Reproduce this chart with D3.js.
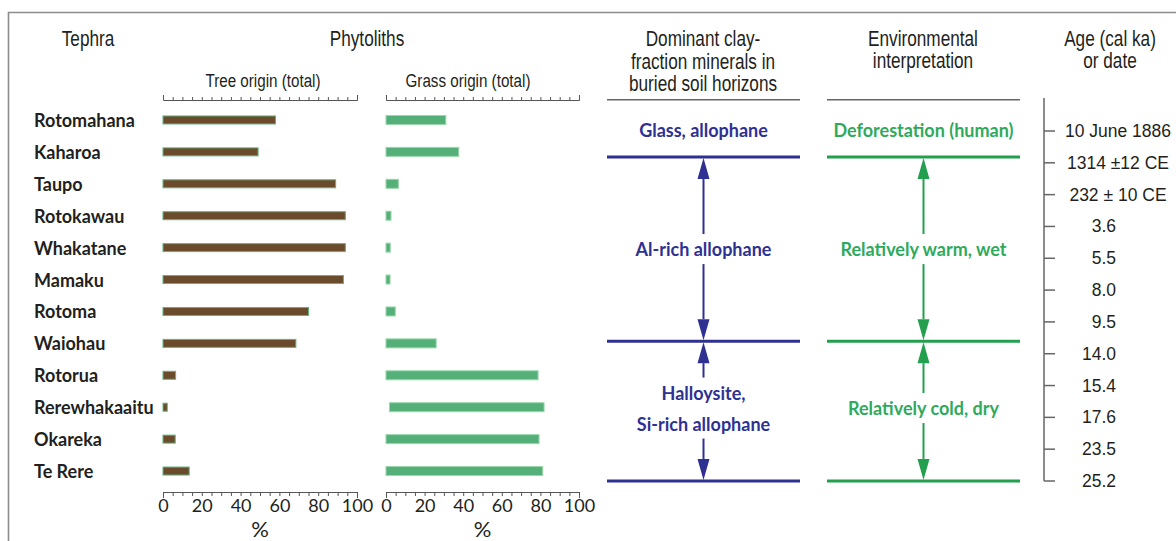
<!DOCTYPE html>
<html><head><meta charset="utf-8">
<script src="https://cdn.jsdelivr.net/npm/d3@7"></script>
<style>
body{margin:0;background:#fff}
svg{display:block}
.hdr{font-family:"Liberation Sans",Arial,sans-serif;fill:#231f20}
</style>
</head><body>
<svg id="c" width="1176" height="541"></svg>
<script>
// ---------- data ----------
const tephra = ["Rotomahana","Kaharoa","Taupo","Rotokawau","Whakatane","Mamaku","Rotoma","Waiohau","Rotorua","Rerewhakaaitu","Okareka","Te Rere"];
const treeOrigin  = [58, 49, 89, 94, 94, 93, 75, 68.5, 6.5, 2.2, 6.3, 13.5];
const grassOrigin = [31, 37.7, 6.4, 2.6, 2.2, 2.1, 4.8, 26, 78.8, 81.9, 79.3, 81.2];
const grassStart  = [0, 0, 0, 0, 0, 0, 0, 0, 0, 1.8, 0, 0];
const ageLabels = ["10 June 1886","1314 \u00b112 CE","232 \u00b1 10 CE","3.6","5.5","8.0","9.5","14.0","15.4","17.6","23.5","25.2"];
const percentTicks = [0, 20, 40, 60, 80, 100];
const clayLabels = [["Glass, allophane"], ["Al-rich allophane"], ["Halloysite,", "Si-rich allophane"]];
const envLabels  = [["Deforestation (human)"], ["Relatively warm, wet"], ["Relatively cold, dry"]];
// zone boundaries, in tephra-row units (header rule, then three horizon boundaries)
const zoneBounds = [-0.63, 1.16, 6.93, 11.31];

// ---------- layout ----------
const svg = d3.select("#c");
const y = d3.scaleBand().domain(tephra).range([104, 487]);
const rowC = n => y(n) + y.bandwidth() / 2;
const rowY = d3.scaleLinear().domain([0, tephra.length - 1]).range([rowC(tephra[0]), rowC(tephra[tephra.length - 1])]);
const xTree  = d3.scaleLinear().domain([0, 100]).range([163, 357]);
const xGrass = d3.scaleLinear().domain([0, 100]).range([386, 579]);
const ageY = d3.scalePoint().domain(ageLabels).range([131, 481]);
const labelShift = [2, 0, -3];

// frame
svg.append("path").attr("d", "M8.5,541 V12.5 H1176")
  .attr("fill", "none").attr("stroke", "#8c8c8c").attr("stroke-width", 1.6);

// headers (condensed look via horizontal scaling)
function hdr(x, yy, txt, size) {
  svg.append("text").attr("class", "hdr")
    .attr("transform", `translate(${x},${yy}) scale(0.8,1)`)
    .attr("text-anchor", "middle").attr("dominant-baseline", "central")
    .style("font-size", size + "px").text(txt);
}
hdr(88, 38, "Tephra", 21.5);
hdr(367, 38, "Phytoliths", 21.5);
hdr(263, 80, "Tree origin (total)", 19);
hdr(468, 80, "Grass origin (total)", 19);
hdr(703, 38, "Dominant clay-", 21.5);
hdr(703, 61, "fraction minerals in", 21.5);
hdr(703, 83, "buried soil horizons", 21.5);
hdr(923, 38, "Environmental", 21.5);
hdr(923, 60, "interpretation", 21.5);
hdr(1110, 38, "Age (cal ka)", 21.5);
hdr(1110, 60, "or date", 21.5);

// axes
function styleAxis(g) {
  g.selectAll("path,line").attr("stroke", "#555").attr("stroke-width", 1);
  g.selectAll("text").attr("fill", "#231f20")
    .style("font-family", "Lato, 'Open Sans', sans-serif").style("font-size", "18px");
}
[xTree, xGrass].forEach(x => {
  svg.append("g").attr("transform", "translate(0,100)")
    .call(d3.axisTop(x).tickValues(d3.range(0, 101, 5)).tickSize(3).tickSizeOuter(5).tickFormat(""))
    .call(styleAxis);
  svg.append("g").attr("transform", "translate(0,492)")
    .call(d3.axisBottom(x).tickValues(d3.range(0, 101, 5)).tickSize(4).tickSizeOuter(6)
      .tickPadding(3).tickFormat(d => percentTicks.includes(d) ? d : ""))
    .call(styleAxis);
  svg.append("text").attr("x", (x.range()[0] + x.range()[1]) / 2).attr("y", 528)
    .attr("text-anchor", "middle").attr("dominant-baseline", "central")
    .style("font-family", "Lato, 'Open Sans', sans-serif").style("font-size", "22px")
    .attr("fill", "#231f20").text("%");
});

// tephra names
svg.append("g").selectAll("text").data(tephra).join("text")
  .attr("x", 34).attr("y", d => rowC(d)).attr("dominant-baseline", "central")
  .style("font-family", "Lato, 'Open Sans', sans-serif").style("font-weight", 700)
  .style("font-size", "18px").attr("fill", "#231f20").text(d => d);

// tree bars
svg.append("g").selectAll("rect").data(tephra).join("rect")
  .attr("x", xTree(0)).attr("y", d => rowC(d) - 4)
  .attr("width", (d, i) => xTree(treeOrigin[i]) - xTree(0)).attr("height", 8)
  .attr("fill", "#6b4b2c").attr("stroke", "#5fb47c").attr("stroke-width", 1);

// grass bars
svg.append("g").selectAll("rect").data(tephra).join("rect")
  .attr("x", (d, i) => xGrass(grassStart[i])).attr("y", d => rowC(d) - 4.5)
  .attr("width", (d, i) => xGrass(grassOrigin[i]) - xGrass(grassStart[i])).attr("height", 9)
  .attr("fill", "#55af78").attr("stroke", "#9ad8ab").attr("stroke-width", 1);

// interpretation columns
function column(x0, x1, lineColor, textColor, labels) {
  const cx = (x0 + x1) / 2;
  const g = svg.append("g");
  g.append("line").attr("x1", x0).attr("x2", x1)
    .attr("y1", rowY(zoneBounds[0])).attr("y2", rowY(zoneBounds[0]))
    .attr("stroke", "#666").attr("stroke-width", 1.5);
  zoneBounds.slice(1).forEach(b => {
    g.append("line").attr("x1", x0).attr("x2", x1).attr("y1", rowY(b)).attr("y2", rowY(b))
      .attr("stroke", lineColor).attr("stroke-width", 3);
  });
  labels.forEach((lines, k) => {
    const top = rowY(zoneBounds[k]), bot = rowY(zoneBounds[k + 1]);
    const mid = (top + bot) / 2 + labelShift[k];
    const lh = 31;
    lines.forEach((t, j) => {
      g.append("text").attr("x", cx).attr("y", mid + (j - (lines.length - 1) / 2) * lh)
        .attr("text-anchor", "middle").attr("dominant-baseline", "central")
        .style("font-family", "Lato, 'Open Sans', sans-serif").style("font-weight", 700)
        .style("font-size", "18px").attr("fill", textColor).text(t);
    });
    if (k > 0) {
      const gap = (lines.length - 1) * lh / 2 + 15;
      const ah = 22, aw = 6;
      g.append("line").attr("x1", cx).attr("x2", cx).attr("y1", top + ah).attr("y2", mid - gap)
        .attr("stroke", lineColor).attr("stroke-width", 2);
      g.append("line").attr("x1", cx).attr("x2", cx).attr("y1", mid + gap).attr("y2", bot - ah)
        .attr("stroke", lineColor).attr("stroke-width", 2);
      g.append("path").attr("d", `M${cx},${top + 1} L${cx - aw},${top + ah} L${cx + aw},${top + ah} Z`).attr("fill", lineColor);
      g.append("path").attr("d", `M${cx},${bot - 1} L${cx - aw},${bot - ah} L${cx + aw},${bot - ah} Z`).attr("fill", lineColor);
    }
  });
}
column(607, 800, "#2e3192", "#2e3192", clayLabels);
column(827, 1020, "#23a04f", "#2faa5c", envLabels);

// age axis
const ag = svg.append("g");
ag.append("line").attr("x1", 1044).attr("x2", 1044).attr("y1", 98).attr("y2", ageY.range()[1])
  .attr("stroke", "#666").attr("stroke-width", 1.5);
ag.selectAll("line.t").data(ageLabels).join("line").attr("class", "t")
  .attr("x1", 1044).attr("x2", 1055).attr("y1", d => ageY(d)).attr("y2", d => ageY(d))
  .attr("stroke", "#666").attr("stroke-width", 1.5);
ag.selectAll("text").data(ageLabels).join("text")
  .attr("x", d => isNaN(+d) ? 1118 : 1116).attr("y", d => ageY(d))
  .attr("text-anchor", d => isNaN(+d) ? "middle" : "end").attr("dominant-baseline", "central")
  .style("font-family", "'Liberation Sans', Arial, sans-serif").style("font-size", "17.5px")
  .attr("fill", "#231f20").text(d => d);
</script>
</body></html>
